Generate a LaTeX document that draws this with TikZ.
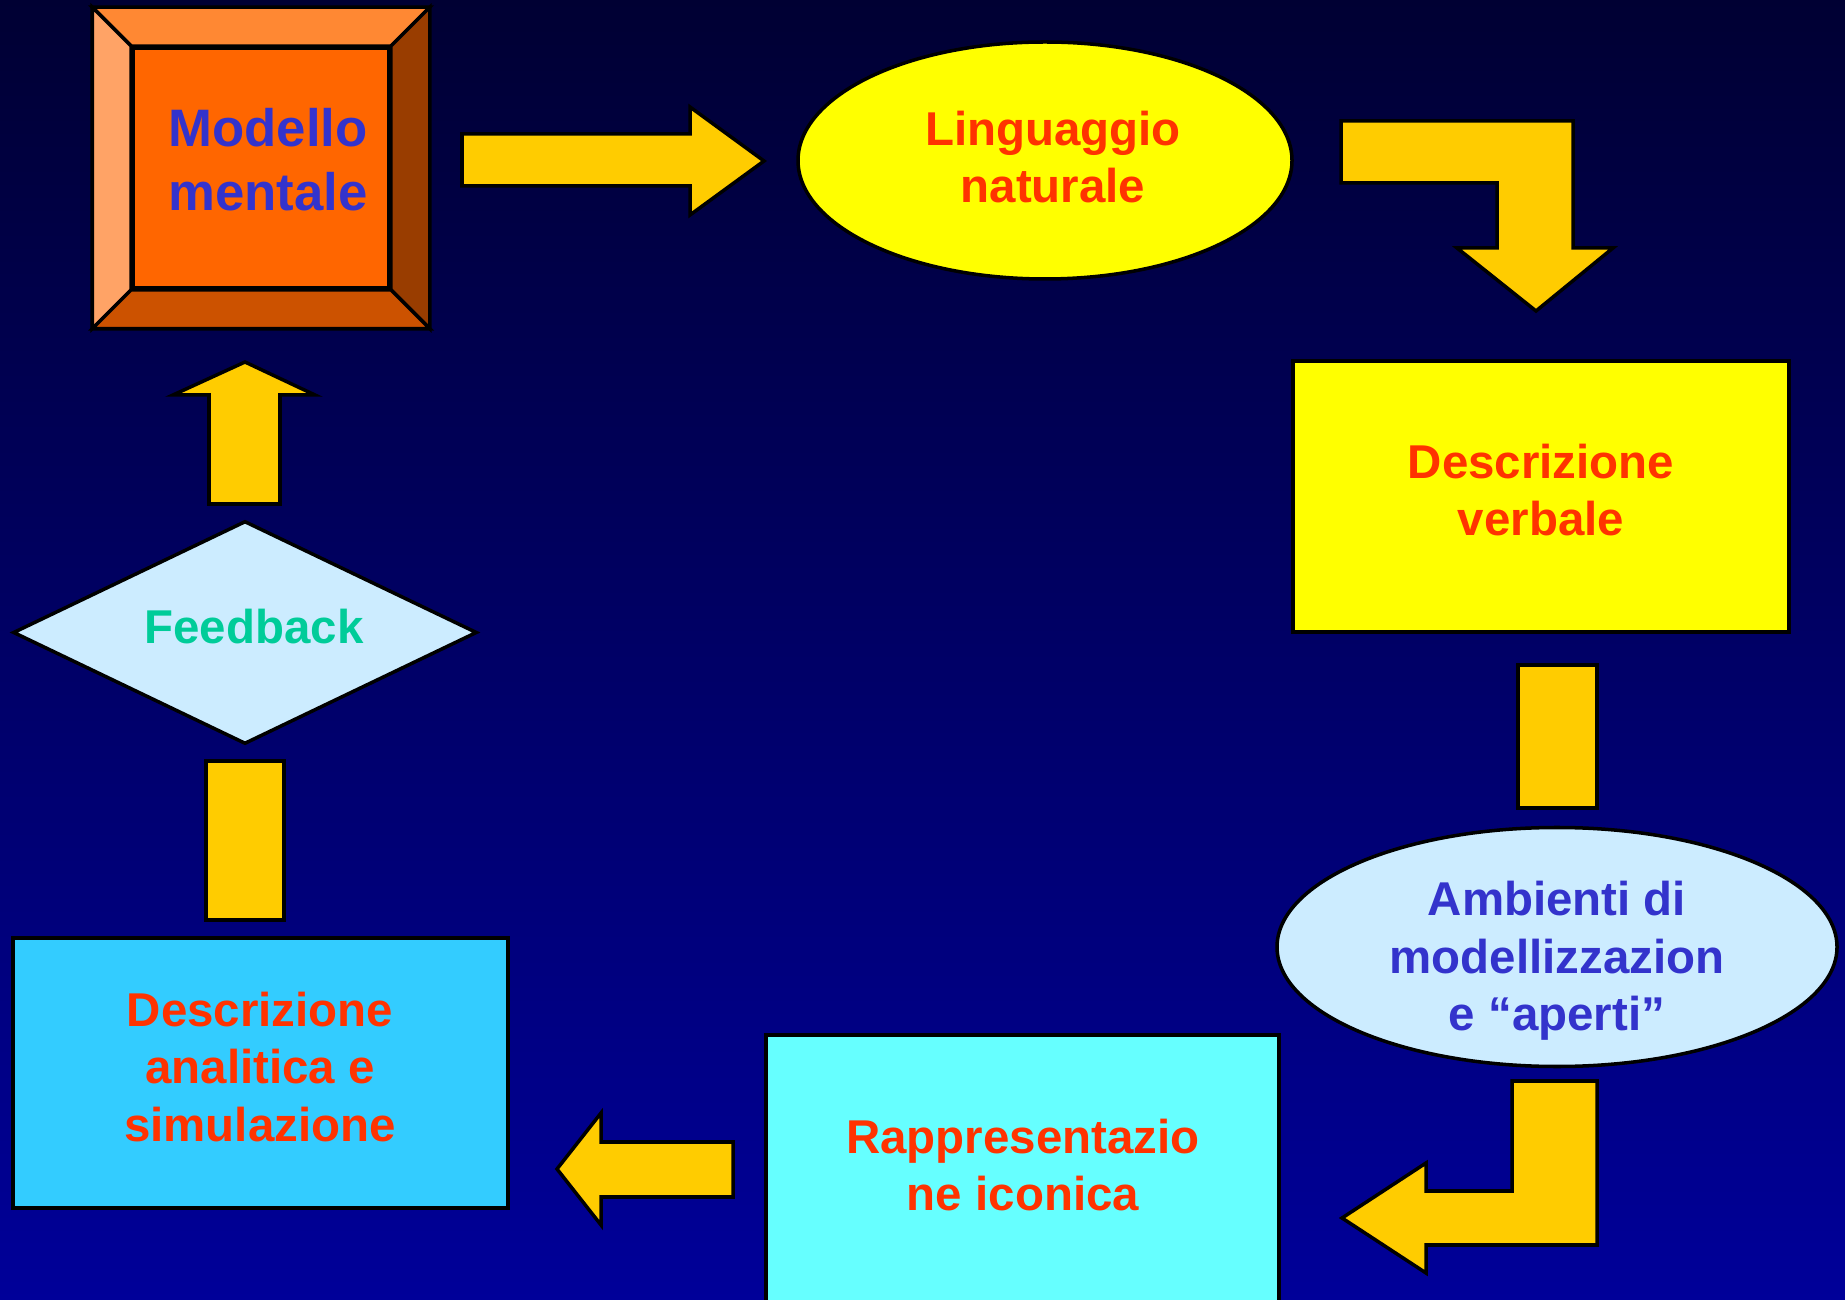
\documentclass[tikz,border=0pt]{standalone}
\usepackage{fontspec}
\setmainfont{Liberation Sans}
\usetikzlibrary{shapes.geometric}
\definecolor{arrowyellow}{HTML}{FFCC00}
\definecolor{textred}{HTML}{FF3300}
\definecolor{textblue}{HTML}{3333CC}
\definecolor{textgreen}{HTML}{00CC99}
\definecolor{paleblue}{HTML}{CCECFF}
\definecolor{skyblue}{HTML}{33CCFF}
\definecolor{cyanbox}{HTML}{66FFFF}
\definecolor{pureyellow}{HTML}{FFFF00}
\definecolor{bevface}{HTML}{FF6600}
\definecolor{bevtop}{HTML}{FF8833}
\definecolor{bevleft}{HTML}{FFA366}
\definecolor{bevright}{HTML}{993D00}
\definecolor{bevbottom}{HTML}{CC5200}
\definecolor{bgtop}{HTML}{000033}
\definecolor{bgbottom}{HTML}{000099}
\tikzstyle{blockarrow} = [draw=black,line width=1pt,fill=arrowyellow,line join=miter]
\tikzstyle{box} = [draw=black,line width=1pt,inner sep=0pt]
\tikzstyle{txt} = [align=center,font=\fontsize{13.5}{16.3}\selectfont\bfseries]

\begin{document}
\begin{tikzpicture}
\def\bev{0.39}
\useasboundingbox (0,0) rectangle (18.45,-13);
\shade[top color=bgtop,bottom color=bgbottom] (0,0) rectangle (18.45,-13);

\node[box,fill=bevface,minimum width=2.56cm,minimum height=2.40cm] (modello) at (2.61,-1.68) {};
\draw[box,fill=bevtop] ([shift={(-\bev,\bev)}]modello.north west) -- ([shift={(\bev,\bev)}]modello.north east) -- (modello.north east) -- (modello.north west) -- cycle;
\draw[box,fill=bevleft] ([shift={(-\bev,\bev)}]modello.north west) -- ([shift={(-\bev,-\bev)}]modello.south west) -- (modello.south west) -- (modello.north west) -- cycle;
\draw[box,fill=bevright] ([shift={(\bev,\bev)}]modello.north east) -- ([shift={(\bev,-\bev)}]modello.south east) -- (modello.south east) -- (modello.north east) -- cycle;
\draw[box,fill=bevbottom] ([shift={(-\bev,-\bev)}]modello.south west) -- ([shift={(\bev,-\bev)}]modello.south east) -- (modello.south east) -- (modello.south west) -- cycle;
\node[txt,text=textblue,font=\fontsize{15}{18.2}\selectfont\bfseries] (modellotext) at (2.68,-1.60) {Modello\\mentale};

\node[box,ellipse,fill=pureyellow,minimum width=4.94cm,minimum height=2.37cm] (linguaggio) at (10.45,-1.605) {};
\node[txt,text=textred] (linguaggiotext) at (10.53,-1.57) {Linguaggio\\naturale};

\node[box,fill=pureyellow,minimum width=4.96cm,minimum height=2.71cm] (verbale) at (15.41,-4.965) {};
\node[txt,text=textred] (verbaletext) at (15.41,-4.90) {Descrizione\\verbale};

\node[box,ellipse,fill=paleblue,minimum width=5.60cm,minimum height=2.39cm] (ambienti) at (15.57,-9.47) {};
\node[txt,text=textblue] (ambientitext) at (15.57,-9.61) {Ambienti di\\modellizzazion\\e ``aperti''};

\node[box,fill=cyanbox,minimum width=5.13cm,minimum height=2.70cm,anchor=north] (iconica) at (10.225,-10.33) {};
\node[txt,text=textred] (iconicatext) at (10.23,-11.65) {Rappresentazio\\ne iconica};

\node[box,fill=skyblue,minimum width=4.95cm,minimum height=2.70cm] (analitica) at (2.605,-10.73) {};
\node[txt,text=textred] (analiticatext) at (2.60,-10.67) {Descrizione\\analitica e\\simulazione};

\node[box,diamond,fill=paleblue,minimum width=4.64cm,minimum height=2.23cm] (feedback) at (2.45,-6.325) {};
\node[txt,text=textgreen] (feedbacktext) at (2.54,-6.27) {Feedback};

\draw[blockarrow] (4.62,-1.34) -- (6.90,-1.34) -- (6.90,-1.07) -- (7.64,-1.61) -- (6.90,-2.15) -- (6.90,-1.86) -- (4.62,-1.86) -- cycle;
\draw[blockarrow] (13.41,-1.21) -- (15.73,-1.21) -- (15.73,-2.48) -- (16.13,-2.48) -- (15.36,-3.11) -- (14.57,-2.48) -- (14.97,-2.48) -- (14.97,-1.83) -- (13.41,-1.83) -- cycle;
\draw[blockarrow] (15.18,-6.65) rectangle (15.97,-8.08);
\draw[blockarrow] (15.12,-10.81) -- (15.97,-10.81) -- (15.97,-12.45) -- (14.26,-12.45) -- (14.26,-12.73) -- (13.42,-12.18) -- (14.26,-11.63) -- (14.26,-11.91) -- (15.12,-11.91) -- cycle;
\draw[blockarrow] (7.33,-11.42) -- (6.01,-11.42) -- (6.01,-11.13) -- (5.57,-11.69) -- (6.01,-12.25) -- (6.01,-11.97) -- (7.33,-11.97) -- cycle;
\draw[blockarrow] (2.06,-7.61) rectangle (2.84,-9.20);
\draw[blockarrow] (2.09,-5.04) -- (2.09,-3.95) -- (1.73,-3.95) -- (2.45,-3.62) -- (3.15,-3.95) -- (2.80,-3.95) -- (2.80,-5.04) -- cycle;
\end{tikzpicture}
\end{document}
